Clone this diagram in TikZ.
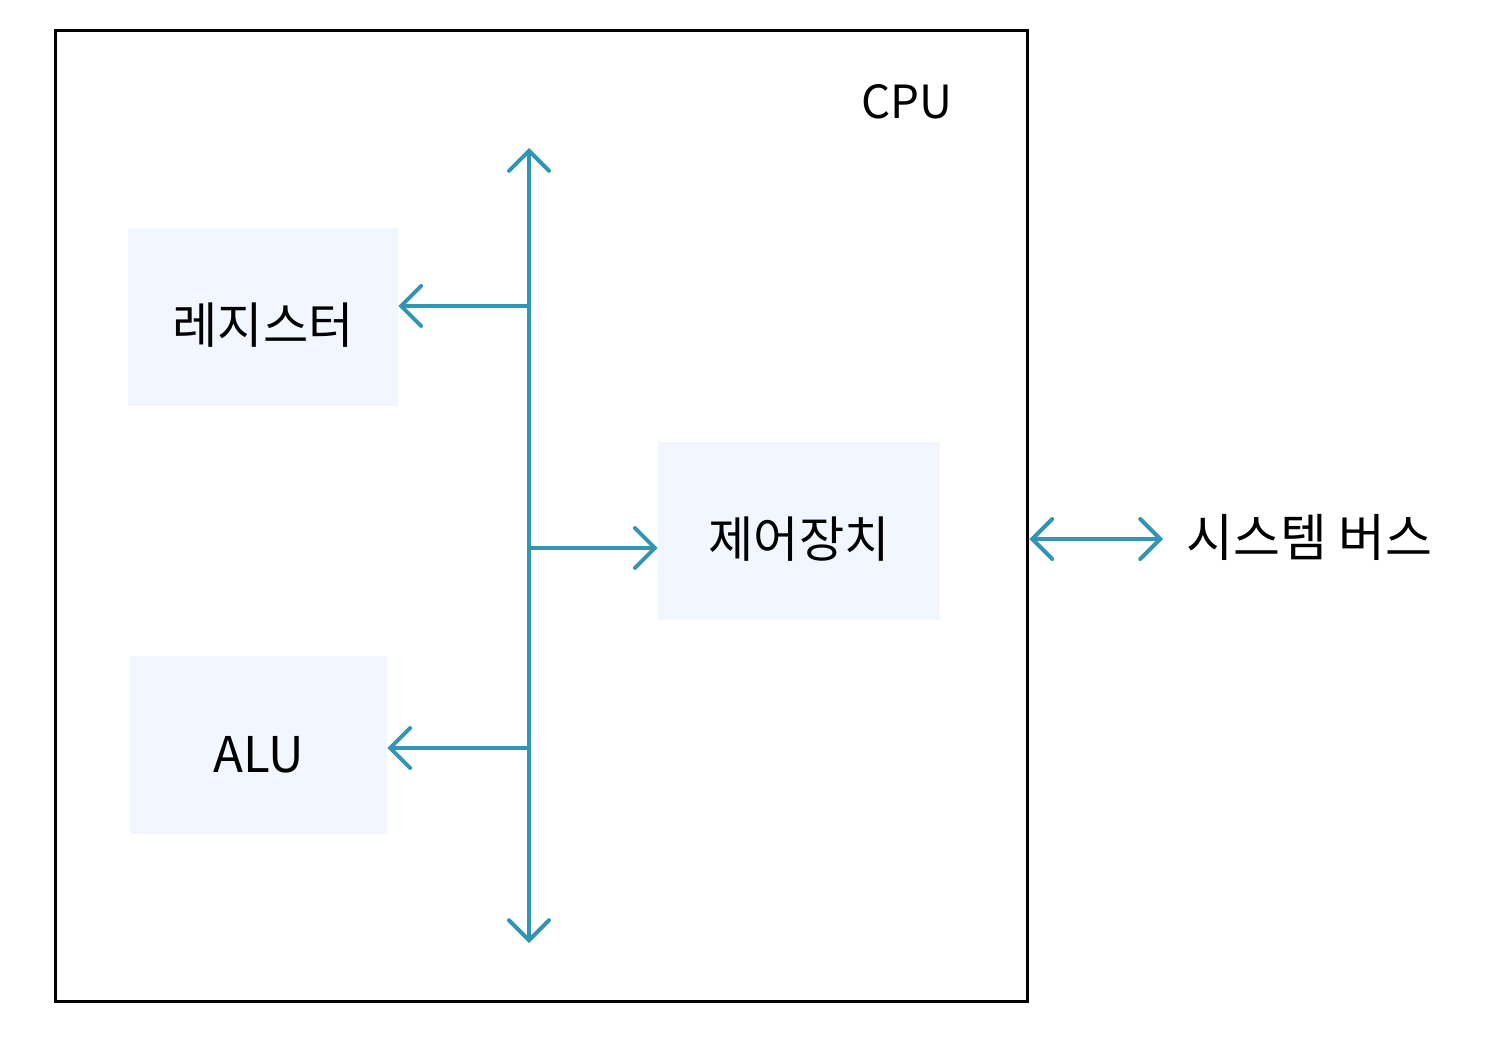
\documentclass[tikz,border=0pt]{standalone}
\usepackage{fontspec}
\setmainfont{Noto Sans CJK KR}
\usetikzlibrary{arrows.meta}
\definecolor{busline}{HTML}{3296B2}
\definecolor{unitfill}{HTML}{F2F6FE}
\begin{document}
\begin{tikzpicture}[x=0.02cm,y=-0.02cm,
        barb/.tip={Straight Barb[length=0.4cm,width=0.8cm,line cap=round]},
        unit/.style={fill=unitfill,minimum height=3.56cm,text height=1.18cm,text depth=0.1cm,
            font=\fontsize{28}{32}\selectfont},
        busarrow/.style={draw=busline,line width=0.08cm,line cap=round,-barb},
        busboth/.style={busarrow,barb-barb}]
        \useasboundingbox (0,0) rectangle (1487,1057);
        \node [draw,line width=0.06cm,minimum width=19.46cm,minimum height=19.44cm] (cpu) at (541.5,516) {};
        \node [font=\fontsize{26}{30}\selectfont] (cpulabel) at (907,102) {CPU};
        \node [unit,minimum width=5.4cm] (reg) at (263,317) {레지스터};
        \node [unit,minimum width=5.64cm] (ctrl) at (799,531) {제어장치};
        \node [unit,minimum width=5.14cm] (alu) at (258.5,745) {ALU};
        \node [anchor=west,inner sep=0pt,font=\fontsize{29}{33}\selectfont] (sysbus) at (1186,537) {시스템 버스};
        % bus
        \coordinate (busTop) at (529,148);
        \coordinate (busBot) at (529,943);
        \coordinate (j1) at (529,306);
        \coordinate (j2) at (529,548);
        \coordinate (j3) at (529,748);
        \coordinate (sb) at (1100,539);
        \draw [busboth] (busTop) -- (busBot);
        \draw [busarrow] (j1) -- (reg.east |- j1);
        \draw [busarrow] (j2) -- (ctrl.west |- j2);
        \draw [busarrow] (j3) -- (alu.east |- j3);
        \draw [busboth,shorten >=0.46cm] (cpu.east |- sb) -- (sysbus.west |- sb);
    \end{tikzpicture}
\end{document}
